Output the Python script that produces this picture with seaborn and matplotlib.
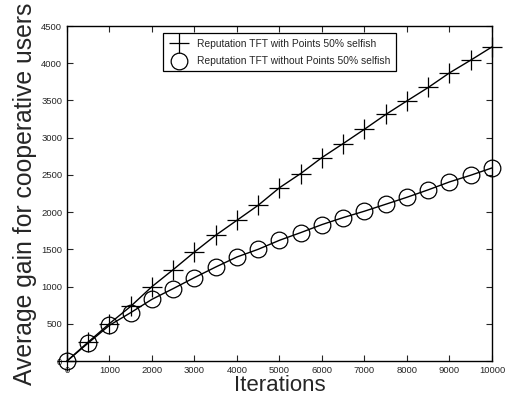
import seaborn as sns
import pandas as pd
import numpy as np
import matplotlib.pyplot as plt

iterations = [0, 500, 1000, 1500, 2000, 2500, 3000, 3500, 4000, 4500, 5000,
              5500, 6000, 6500, 7000, 7500, 8000, 8500, 9000, 9500, 10000]
with_points = [0, 255, 503, 735, 1000, 1228, 1465, 1690, 1891, 2093, 2328,
               2519, 2734, 2922, 3114, 3312, 3495, 3675, 3871, 4042, 4220]
without_points = [0, 242, 480, 650, 829, 973, 1121, 1263, 1398, 1501, 1622,
                  1725, 1833, 1927, 2013, 2106, 2200, 2300, 2406, 2496, 2594]
labels = ['Reputation TFT with Points 50% selfish',
          'Reputation TFT without Points 50% selfish']

sns.set_style('ticks')
plt.rcParams['font.family'] = ['Liberation Sans', 'DejaVu Sans']

fig = plt.figure(figsize=(5.09, 4.07), dpi=100)
ax = fig.add_axes([0.1316, 0.113, 0.835, 0.823])

sns.lineplot(x=iterations, y=with_points, color='black', linewidth=1,
             marker='+', markersize=14, markeredgewidth=0.9,
             markeredgecolor='black', label=labels[0], ax=ax, clip_on=False)
sns.lineplot(x=iterations, y=without_points, color='black', linewidth=1,
             marker='o', markersize=12, markerfacecolor='none',
             markeredgecolor='black', markeredgewidth=0.9,
             label=labels[1], ax=ax, clip_on=False)

ax.set_xlim(0, 10000)
ax.set_ylim(0, 4500)
ax.set_xticks(range(0, 10001, 1000))
ax.set_yticks(range(0, 4501, 500))
ax.tick_params(direction='in', top=True, right=True, labelsize=6.8, length=4, width=0.8)
for s in ax.spines.values():
    s.set_linewidth(1)
    s.set_color('black')
ax.set_xlabel('Iterations', fontsize=16, labelpad=0)
ax.set_ylabel('Average gain for cooperative users', fontsize=17.8, labelpad=3)

leg = ax.legend(loc='upper center', bbox_to_anchor=(0.5, 0.978), fontsize=7.4,
                frameon=True, fancybox=False, edgecolor='black', framealpha=1,
                handlelength=2.0, borderpad=0.5, labelspacing=0.75,
                handletextpad=0.8, borderaxespad=0)
leg.get_frame().set_linewidth(0.9)
for line in leg.get_lines():
    line.set_linestyle('none')

fig.savefig('out.png', dpi=100)
